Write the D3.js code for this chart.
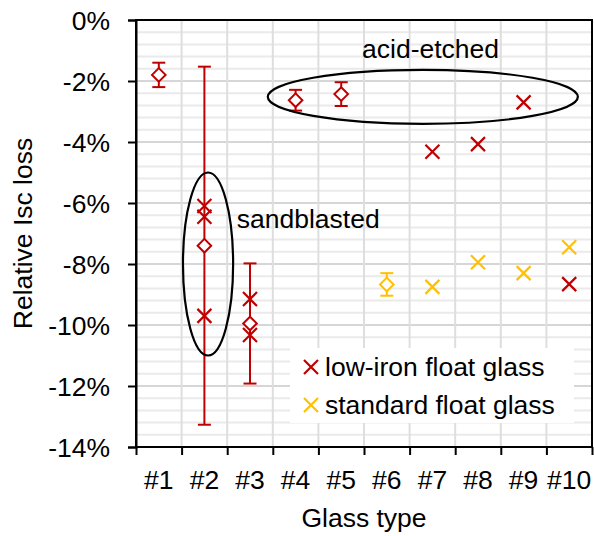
<!DOCTYPE html>
<html>
<head>
<meta charset="utf-8">
<script src="https://cdn.jsdelivr.net/npm/d3@7"></script>
<style>
  html, body { margin: 0; padding: 0; background: #fff; }
  svg text { font-family: "Liberation Sans", Arial, sans-serif; fill: #000; }
</style>
</head>
<body>
<svg id="chart" width="594" height="536"></svg>
<script>
// Glass types on the x axis
const categories = ["#1", "#2", "#3", "#4", "#5", "#6", "#7", "#8", "#9", "#10"];
const yTicks = [0, -2, -4, -6, -8, -10, -12, -14];

// Low-iron float glass: single modules [glass type, loss %]
const lowIronSamples = [
  ["#2", -6.1], ["#2", -6.45], ["#2", -9.7],
  ["#3", -9.15], ["#3", -10.33],
  ["#7", -4.32], ["#8", -4.07], ["#9", -2.7], ["#10", -8.66]
];
// Low-iron float glass: means with spread [glass type, mean %, +/- %]
const lowIronMeans = [
  ["#1", -1.8, 0.4], ["#2", -7.4, 5.87], ["#3", -9.95, 1.97],
  ["#4", -2.63, 0.34], ["#5", -2.43, 0.39]
];
// Standard float glass
const standardSamples = [["#7", -8.75], ["#8", -7.94], ["#9", -8.3], ["#10", -7.45]];
const standardMeans = [["#6", -8.67, 0.37]];

// Group annotations in category units (0..10) and percent
const groupEllipses = [
  { label: "sandblasted", cx: 1.58, cy: -8.0, rx: 0.55, ry: 3.0, tx: 2.21, ty: -6.82, anchor: "start" },
  { label: "acid-etched", cx: 6.29, cy: -2.52, rx: 3.40, ry: 0.885, tx: 6.46, ty: -1.25, anchor: "middle" }
];

const RED = "#c00000", YELLOW = "#ffc000";
const FONT = 26.5;
const margin = { left: 136, right: 2, top: 20, bottom: 89 };
const W = 594, H = 536;
const x0 = margin.left, x1 = W - margin.right, y0 = margin.top, y1 = H - margin.bottom;

const svg = d3.select("#chart");
const x = d3.scaleBand().domain(categories).range([x0, x1]).padding(0);
const xu = d3.scaleLinear().domain([0, categories.length]).range([x0, x1]);
const y = d3.scaleLinear().domain([-14, 0]).range([y1, y0]);
const cx = c => x(c) + x.bandwidth() / 2;

// Grid: minor every 0.4 %, major every 2 %, vertical at category boundaries
const grid = svg.append("g");
grid.selectAll("line.minor").data(d3.range(-14, 0.001, 0.4).map(v => +v.toFixed(1)))
  .join("line").attr("x1", x0).attr("x2", x1)
  .attr("y1", d => y(d)).attr("y2", d => y(d))
  .attr("stroke", "#eaeaea").attr("stroke-width", 2);
grid.selectAll("line.major").data(yTicks)
  .join("line").attr("class", "major").attr("x1", x0).attr("x2", x1)
  .attr("y1", d => y(d)).attr("y2", d => y(d))
  .attr("stroke", "#d6d6d6").attr("stroke-width", 2);
grid.selectAll("line.vert").data(d3.range(1, categories.length))
  .join("line").attr("class", "vert").attr("x1", d => xu(d)).attr("x2", d => xu(d))
  .attr("y1", y0).attr("y2", y1)
  .attr("stroke", "#dedede").attr("stroke-width", 2);

// Legend background hides the grid underneath
const legend = svg.append("g").attr("transform", "translate(290,348)");
legend.append("rect").attr("width", 284).attr("height", 75).attr("fill", "#fff");

// Axes
const yAxis = d3.axisLeft(y).tickValues(yTicks).tickSize(8).tickPadding(18)
  .tickFormat(d => d + "%");
const gy = svg.append("g").attr("transform", `translate(${x0},0)`).call(yAxis);
gy.selectAll("text").attr("font-size", FONT).attr("dy", "0.36em");

const xAxis = d3.axisBottom(x).tickSize(0).tickPadding(0);
const gx = svg.append("g").attr("transform", `translate(0,${y1})`).call(xAxis);
gx.select(".domain").remove();
gx.selectAll("text").attr("font-size", FONT).attr("dy", null).attr("y", 42);
const xTicks = d3.axisBottom(xu).tickValues(d3.range(0, categories.length + 1)).tickSize(8).tickFormat("");
const gxt = svg.append("g").attr("transform", `translate(0,${y1})`).call(xTicks);
gxt.select(".domain").remove();

[gy, gx, gxt].forEach(g => {
  g.selectAll("line").attr("stroke", "#000").attr("stroke-width", 2);
  g.selectAll(".domain").attr("stroke", "#000").attr("stroke-width", 2);
});

// Plot frame
svg.append("rect").attr("x", x0).attr("y", y0).attr("width", x1 - x0).attr("height", y1 - y0)
  .attr("fill", "none").attr("stroke", "#000").attr("stroke-width", 2);

// Axis titles
svg.append("text").attr("transform", `translate(31.5,${(y0 + y1) / 2}) rotate(-90)`)
  .attr("text-anchor", "middle").attr("font-size", FONT).text("Relative Isc loss");
svg.append("text").attr("x", (x0 + x1) / 2).attr("y", 527)
  .attr("text-anchor", "middle").attr("font-size", FONT).text("Glass type");

// Markers
const crossPath = s => `M${-s},${-s}L${s},${s}M${-s},${s}L${s},${-s}`;
const diamondPath = s => `M0,${-s}L${s},0L0,${s}L${-s},0Z`;
const marks = svg.append("g");

function drawMeans(data, color) {
  const g = marks.append("g").attr("stroke", color).attr("stroke-width", 2).attr("fill", "none");
  data.forEach(([c, m, e]) => {
    const px = cx(c);
    g.append("line").attr("x1", px).attr("x2", px).attr("y1", y(m + e)).attr("y2", y(m - e));
    [m + e, m - e].forEach(v => g.append("line")
      .attr("x1", px - 6.5).attr("x2", px + 6.5).attr("y1", y(v)).attr("y2", y(v)));
    g.append("path").attr("d", diamondPath(6.8))
      .attr("transform", `translate(${px},${y(m)})`).attr("fill", "#fff");
  });
}
function drawSamples(data, color) {
  marks.append("g").selectAll("path").data(data).join("path")
    .attr("d", crossPath(7))
    .attr("transform", d => `translate(${cx(d[0])},${y(d[1])})`)
    .attr("stroke", color).attr("stroke-width", 2.2).attr("fill", "none");
}
drawMeans(lowIronMeans, RED);
drawMeans(standardMeans, YELLOW);
drawSamples(lowIronSamples, RED);
drawSamples(standardSamples, YELLOW);

// Group ellipses and labels
const ann = svg.append("g");
groupEllipses.forEach(e => {
  ann.append("ellipse")
    .attr("cx", xu(e.cx)).attr("cy", y(e.cy))
    .attr("rx", xu(e.rx) - xu(0)).attr("ry", y(0) - y(e.ry))
    .attr("fill", "none").attr("stroke", "#000").attr("stroke-width", 2.2);
  ann.append("text").attr("x", xu(e.tx)).attr("y", y(e.ty))
    .attr("text-anchor", e.anchor).attr("font-size", FONT).text(e.label);
});

// Legend entries
const legendItems = [["low-iron float glass", RED], ["standard float glass", YELLOW]];
legendItems.forEach(([label, color], i) => {
  const row = legend.append("g").attr("transform", `translate(0,${19 + i * 38})`);
  row.append("path").attr("d", crossPath(7)).attr("transform", "translate(21,0)")
    .attr("stroke", color).attr("stroke-width", 2.2).attr("fill", "none");
  row.append("text").attr("x", 35).attr("y", 9).attr("font-size", FONT).text(label);
});
</script>
</body>
</html>
